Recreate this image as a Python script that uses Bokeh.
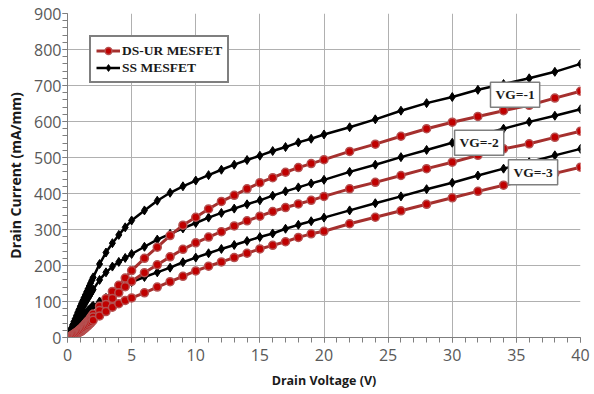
from bokeh.plotting import figure
from bokeh.models import (Legend, LegendItem, Label, SingleIntervalTicker,
                          ColumnDataSource)
from bokeh.embed import file_html
from bokeh.resources import INLINE

# Drain voltage sample points (V)
vd = [0, 0.1, 0.2, 0.3, 0.4, 0.5, 0.6, 0.7, 0.8, 0.9, 1.0, 1.1, 1.2, 1.3, 1.4,
      1.5, 1.6, 1.7, 1.8, 1.9, 2.0,
      2.5, 3, 3.5, 4, 4.5, 5,
      6, 7, 8, 9, 10, 11, 12, 13, 14, 15, 16, 17, 18, 19, 20,
      22, 24, 26, 28, 30, 32, 34, 36, 38, 40]

# SS MESFET drain current (mA/mm)
ss_vg1 = [0, 9, 18, 26, 35, 44, 52, 61, 70, 78, 87, 95, 103, 111, 119, 127, 135, 143, 151, 159, 167,
          204, 236, 262, 285, 306, 325,
          353, 380, 402, 420, 436, 451, 466, 480, 493, 505, 518, 529, 542, 552, 564,
          584, 606, 630, 651, 668, 688, 704, 720, 738, 760]
ss_vg2 = [0, 7, 14, 21, 28, 35, 42, 49, 56, 63, 70, 77, 84, 90, 97, 103, 109, 115, 121, 127, 133,
          160, 181, 197, 210, 221, 232,
          252, 272, 288, 303, 318, 333, 346, 358, 370, 381, 394, 406, 417, 428, 438,
          460, 480, 501, 521, 541, 561, 580, 599, 616, 634]
ss_vg3 = [0, 5, 10, 15, 20, 25, 30, 35, 40, 45, 50, 54, 58, 62, 66, 70, 74, 78, 81, 85, 88,
          100, 110, 121, 131, 143, 154,
          168, 181, 194, 209, 222, 234, 246, 257, 268, 279, 289, 302, 313, 323, 333,
          353, 373, 392, 412, 430, 450, 469, 487, 506, 524]

# DS-UR MESFET drain current (mA/mm)
ds_vg1 = [0, 1, 3, 5, 7, 9, 12, 14, 17, 20, 23, 26, 30, 34, 38, 42, 46, 50, 55, 60, 65,
          87, 108, 128, 145, 165, 186,
          220, 251, 283, 312, 334, 357, 378, 395, 413, 430, 444, 459, 472, 483, 494,
          517, 537, 559, 580, 598, 614, 630, 645, 665, 684]
ds_vg2 = [0, 1, 2, 4, 6, 8, 10, 12, 15, 17, 20, 23, 26, 30, 33, 37, 41, 45, 49, 53, 57,
          75, 92, 108, 124, 141, 156,
          180, 202, 224, 245, 263, 279, 294, 310, 324, 337, 350, 361, 371, 381, 392,
          413, 431, 450, 469, 487, 506, 524, 538, 556, 573]
ds_vg3 = [0, 1, 2, 3, 5, 6, 8, 10, 12, 14, 16, 18, 21, 24, 27, 30, 33, 37, 40, 44, 48,
          60, 72, 84, 94, 103, 110,
          124, 140, 155, 170, 185, 198, 210, 222, 234, 246, 256, 266, 278, 288, 295,
          316, 334, 352, 370, 388, 406, 423, 439, 456, 473]

gate_labels = ["VG=-1", "VG=-2", "VG=-3"]
gate_label_x = [34.9, 32.1, 36.3]
gate_label_y = [674, 541, 459]

series_names = ["DS-UR MESFET", "SS MESFET"]

BLACK = "#000000"
RED_LINE = "#A5302E"

p = figure(width=594, height=394, x_range=(0, 40), y_range=(0, 900),
           output_backend="svg", toolbar_location=None,
           min_border_left=67, min_border_right=14, min_border_top=13,
           min_border_bottom=57)
p.outline_line_color = None
p.background_fill_color = "white"

ss_line_r, ss_pt_r = [], []
for ys in (ss_vg1, ss_vg2, ss_vg3):
    src = ColumnDataSource(dict(x=vd, y=ys))
    ss_line_r.append(p.line("x", "y", source=src, line_color=BLACK, line_width=2.5))
    ss_pt_r.append(p.scatter("x", "y", source=src, marker="diamond", size=9,
                             fill_color=BLACK, line_color=BLACK))

ds_line_r, ds_pt_r = [], []
for ys in (ds_vg1, ds_vg2, ds_vg3):
    src = ColumnDataSource(dict(x=vd, y=ys))
    ds_line_r.append(p.line("x", "y", source=src, line_color=RED_LINE, line_width=3))
    ds_pt_r.append(p.scatter("x", "y", source=src, marker="circle", size=8,
                             fill_color="#C00000", line_color="#B55050", line_width=1.5))

# axes
p.xaxis.ticker = SingleIntervalTicker(interval=5, num_minor_ticks=5)
p.yaxis.ticker = SingleIntervalTicker(interval=100, num_minor_ticks=5)
for ax in (p.xaxis[0], p.yaxis[0]):
    ax.axis_line_color = "#7f7f7f"
    ax.major_tick_line_color = "#7f7f7f"
    ax.minor_tick_line_color = "#7f7f7f"
    ax.major_tick_in = 0
    ax.major_tick_out = 5
    ax.minor_tick_in = 0
    ax.minor_tick_out = 5
    ax.major_label_text_font = "Open Sans"
    ax.major_label_text_font_size = "16px"
    ax.major_label_text_color = "#595959"
    ax.axis_label_text_font = "Open Sans"
    ax.axis_label_text_font_style = "bold"
    ax.axis_label_text_color = "#1a1a1a"
p.xaxis.axis_label = "Drain Voltage (V)"
p.yaxis.axis_label = "Drain Current (mA/mm)"
p.xaxis.axis_label_text_font_size = "12.5px"
p.yaxis.axis_label_text_font_size = "14px"
p.xaxis.major_label_standoff = 6
p.yaxis.major_label_standoff = 1
p.xaxis.axis_label_standoff = 8
p.yaxis.axis_label_standoff = 6

p.xgrid.grid_line_color = "#b0b0b0"
p.ygrid.grid_line_color = "#b0b0b0"
p.xgrid.grid_line_width = 1
p.ygrid.grid_line_width = 1

legend = Legend(items=[
    LegendItem(label=series_names[0], renderers=[ds_line_r[0], ds_pt_r[0]]),
    LegendItem(label=series_names[1], renderers=[ss_line_r[0], ss_pt_r[0]]),
], location=(22, 254))
legend.label_text_font = "Liberation Serif"
legend.label_text_font_style = "bold"
legend.label_text_font_size = "13.5px"
legend.label_text_color = "#1a1a1a"
legend.border_line_color = "black"
legend.border_line_width = 2
legend.background_fill_color = "white"
legend.background_fill_alpha = 1
legend.glyph_width = 24
legend.glyph_height = 17
legend.label_height = 17
legend.label_standoff = 2
legend.spacing = 0
legend.padding = 5
legend.margin = 0
p.add_layout(legend)

for txt, lx, ly in zip(gate_labels, gate_label_x, gate_label_y):
    p.add_layout(Label(x=lx, y=ly, text=txt, text_align="center",
                       text_baseline="middle", text_font="Liberation Serif",
                       text_font_style="bold", text_font_size="13.5px",
                       text_color="#1a1a1a",
                       background_fill_color="white", background_fill_alpha=1,
                       border_line_color="#7f7f7f", border_line_width=1.5,
                       padding=5))

open("out.html", "w").write(file_html(p, INLINE))
